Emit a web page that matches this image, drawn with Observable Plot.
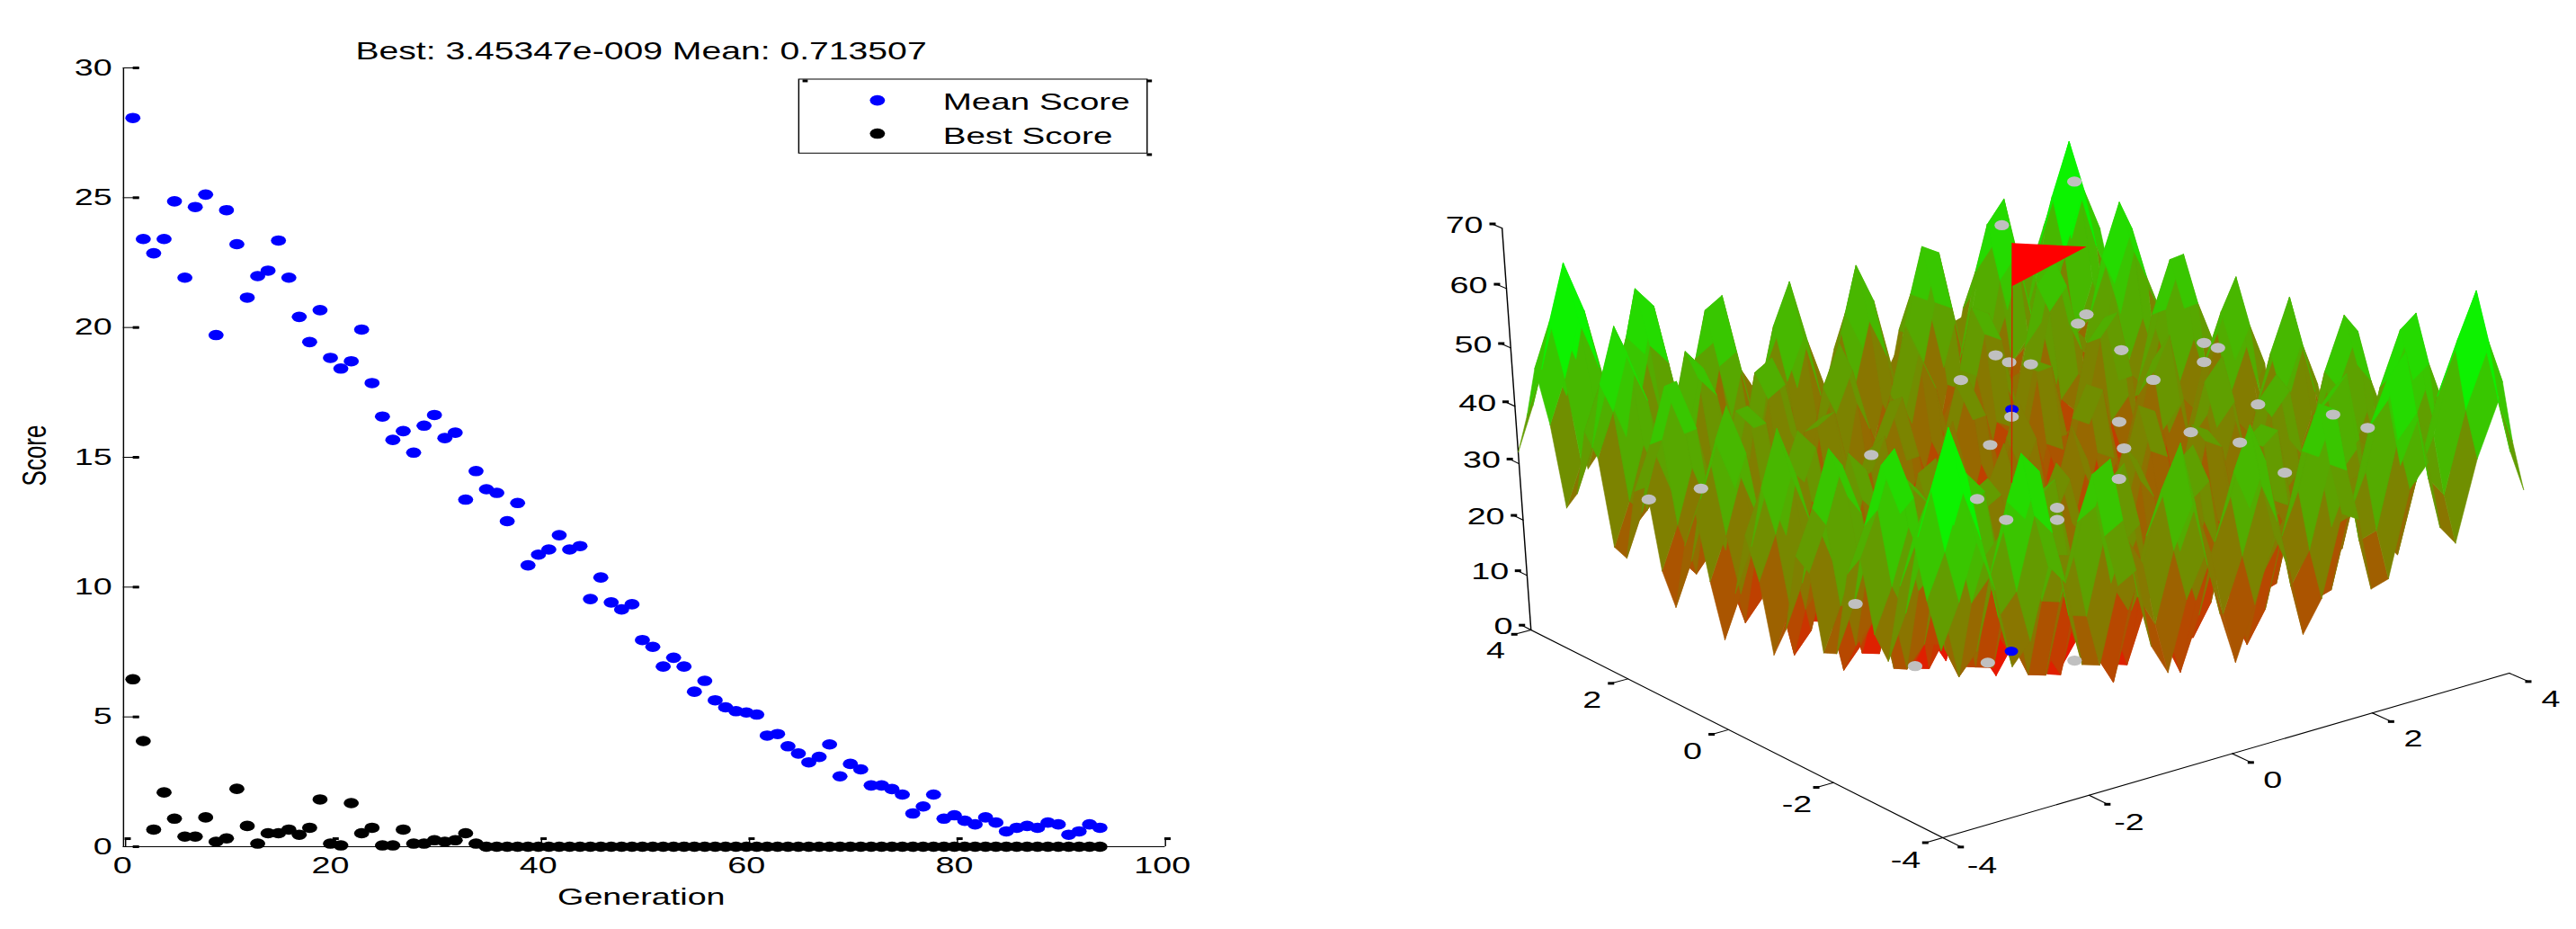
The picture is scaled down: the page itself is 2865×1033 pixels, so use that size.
<!DOCTYPE html>
<html>
<head>
<meta charset="utf-8">
<script src="https://cdn.jsdelivr.net/npm/d3@7"></script>
<script src="https://cdn.jsdelivr.net/npm/@observablehq/plot@0.6"></script>
<style>
body { margin: 0; background: white; }
#chart { display: flex; width: 2865px; height: 1033px; }
</style>
</head>
<body>
<div id="chart"></div>
<script>
const generations = [1,2,3,4,5,6,7,8,9,10,11,12,13,14,15,16,17,18,19,20,21,22,23,24,25,26,27,28,29,30,31,32,
	33,34,35,36,37,38,39,40,41,42,43,44,45,46,47,48,49,50,51,52,53,54,55,56,57,58,59,60,61,62,63,64,
	65,66,67,68,69,70,71,72,73,74,75,76,77,78,79,80,81,82,83,84,85,86,87,88,89,90,91,92,93,94]
const meanScore = [28.07,23.41,22.86,23.41,24.86,21.92,24.64,25.12,19.71,24.52,
	23.21,21.15,21.98,22.19,23.35,21.92,20.41,19.44,20.67,18.83,
	18.42,18.70,19.92,17.86,16.57,15.67,16.01,15.18,16.22,16.63,
	15.74,15.95,13.37,14.47,13.77,13.63,12.54,13.24,10.84,11.25,
	11.45,12.00,11.45,11.58,9.54,10.37,9.41,9.14,9.34,7.96,
	7.70,6.94,7.28,6.94,5.97,6.39,5.64,5.37,5.22,5.17,
	5.09,4.28,4.34,3.87,3.59,3.25,3.46,3.94,2.71,3.19,
	2.98,2.36,2.36,2.22,2.01,1.28,1.55,2.01,1.08,1.21,
	1.00,0.86,1.13,0.93,0.59,0.73,0.80,0.73,0.93,0.86,
	0.46,0.59,0.86,0.73]
const bestScore = [6.45,4.07,0.66,2.09,1.08,0.39,0.39,1.13,0.19,0.32,
	2.23,0.80,0.12,0.52,0.52,0.66,0.46,0.73,1.82,0.12,
	0.05,1.68,0.52,0.73,0.05,0.05,0.66,0.12,0.12,0.25,
	0.19,0.25,0.52,0.12,0,0,0,0,0,0,
	0,0,0,0,0,0,0,0,0,0,
	0,0,0,0,0,0,0,0,0,0,
	0,0,0,0,0,0,0,0,0,0,
	0,0,0,0,0,0,0,0,0,0,
	0,0,0,0,0,0,0,0,0,0,
	0,0,0,0]
const scoreTicks = [0,5,10,15,20,25,30]
const generationTicks = [0,20,40,60,80,100]
const legendLabels = ["Mean Score","Best Score"]
const titleText = "Best: 3.45347e-009 Mean: 0.713507"

// surface: heights estimated along one edge of the grid, the surface adds the two edges
const gridSteps = [-4,-3.76,-3.53,-3.29,-3.06,-2.82,-2.59,-2.35,-2.12,-1.88,-1.65,-1.41,-1.18,-0.94,-0.71,-0.47,-0.24,0,
	0.24,0.47,0.71,0.94,1.18,1.41,1.65,1.88,2.12,2.35,2.59,2.82,3.06,3.29,3.53,3.76,4]
const edgeHeight = [16,23.25,32.29,23.59,10.03,13.52,25.2,21.56,7.09,6.15,18.74,20.5,6.93,1.56,13.24,20.05,9.13,0,
	9.13,20.05,13.24,1.56,6.93,20.5,18.74,6.15,7.09,21.56,25.2,13.52,10.03,23.59,32.29,23.25,16]
const floorTicks = [-4,-2,0,2,4]
const heightTicks = [0,10,20,30,40,50,60,70]

// population scattered over the surface
const popX = [2.66,2.50,2.47,2.62,1.64,1.31,0.53,-0.73,-2.90,-0.68,-0.16,-0.40,-0.84,-3.57,3.78,3.76,3.38,3.89,3.77,3.85,3.77,3.82,2.16,2.57,1.64,2.78,2.53,0.96,3.87,3.84,3.83,-3.71,-3.90,-1.54,-0.74]
const popY = [3.76,3.67,3.37,3.15,3.21,1.81,1.19,1.76,2.05,-0.16,-0.94,-1.25,-0.90,2.12,3.84,2.89,1.81,1.53,1.13,1.47,0.38,-0.88,0.90,0.11,0.15,-0.51,-1.61,-0.62,3.70,3.82,-1.47,-1.99,-3.31,-1.48,-2.02]
const popZ = [52,30,30,30,30,30,30,30,30,30,30,30,30,30,56,30,30,36,37,33,30,33,30,30,30,30,30,30,33,31,33,30,26,10,10]
const bestZ = [0,42.5]

const stretch = 1.45
const leftW = 1400 / stretch, rightW = 1465 / stretch

// camera fitted to the drawn axes
const cam = {ax:2160,ay:931,bx:755.6,by:-149.3,cx:-316.7,cy:-172.9,dx:-2,dy:-7.14,g:.045,h:.083,r:-.0009}
function project(x, y, z) {
	const u = (x + 4) / 8, v = (y + 4) / 8
	const w = 1 + cam.g * u + cam.h * v + cam.r * z
	return {sx: (cam.ax + cam.bx * u + cam.cx * v + cam.dx * z) / w, sy: (cam.ay + cam.by * u + cam.cy * v + cam.dy * z) / w, w}
}

const heightColor = z => {
	const t = Math.min(1, Math.pow(z / 58, 1.25))
	return `rgb(${Math.round(255 * (1 - t))},${Math.round(255 * t)},0)`
}

const n = gridSteps.length
const faces = []
for (let i = 0; i < n - 1; i++) {
	for (let j = 0; j < n - 1; j++) {
		const zs = [[i,j],[i+1,j],[i+1,j+1],[i,j+1],[i,j]].map(([a,b]) => edgeHeight[a] + edgeHeight[b])
		const corners = [[i,j],[i+1,j],[i+1,j+1],[i,j+1],[i,j]].map(([a,b], k) => project(gridSteps[a], gridSteps[b], zs[k]))
		faces.push({corners, depth: d3.mean(corners, c => c.w), color: heightColor(d3.mean(zs.slice(0, 4)))})
	}
}
faces.sort((a, b) => b.depth - a.depth)
const surfaceRows = faces.flatMap((f, id) => f.corners.map(c => ({sx: c.sx, sy: c.sy, id, color: f.color})))

const tickSegments = (list, base, end) => list.flatMap((t, id) => [project(...base(t)), project(...end(t))].map(p => ({...p, id})))
const tipDash = (list, end) => list.map(t => project(...end(t)))

// left panel
const leftPlot = Plot.plot({
	width: leftW, height: 1033,
	marginLeft: 135.5 / stretch, marginRight: (1400 - 1292) / stretch, marginTop: 75, marginBottom: 92,
	x: {domain: [0, 100]},
	y: {domain: [0, 30]},
	style: {fontFamily: "Liberation Sans", fontSize: "26px", color: "#000"},
	marks: [
		Plot.ruleX([0.1], {stroke: "#000", strokeWidth: 1}),
		Plot.ruleY([0], {x1: 0.1, x2: 100.3, stroke: "#000", strokeWidth: 1}),
		Plot.ruleY(scoreTicks, {x1: 0.1, x2: 1.66, stroke: "#000", strokeWidth: 1}),
		Plot.ruleY(scoreTicks, {x1: 1.05, x2: 1.66, stroke: "#000", strokeWidth: 3}),
		Plot.ruleX(generationTicks, {x: d => d + 0.3, y1: 0, y2: 0.3, stroke: "#000", strokeWidth: 1}),
		Plot.link(generationTicks, {x1: d => d + 0.2, x2: d => d + 0.8, y1: 0.31, y2: 0.31, stroke: "#000", strokeWidth: 3}),
		Plot.axisY(scoreTicks, {tickSize: 0, tickPadding: 8, label: null, fontSize: 26}),
		Plot.axisX(generationTicks, {tickSize: 0, tickPadding: 11, label: null, fontSize: 26}),
		Plot.dot(generations, {x: d => d, y: (d, i) => meanScore[i], r: 5.8, fill: "#0000ff"}),
		Plot.dot(generations, {x: d => d, y: (d, i) => bestScore[i], r: 5.8, fill: "#000"}),
		Plot.text([titleText], {frameAnchor: "top", dx: -1, dy: -29, fontSize: 27}),
		Plot.text(["Generation"], {x: () => 49.9, y: () => -1.94, fontSize: 26}),
		Plot.text(["Score"], {x: () => -8.4, y: () => 15.07, rotate: -90, fontSize: 26}),
		Plot.rect(legendLabels.slice(0, 1), {x1: 65.1, x2: 98.6, y1: 29.55, y2: 26.7, fill: "#fff", stroke: "#000", strokeWidth: 1}),
		Plot.link([[65.4,29.5],[98.5,29.5],[98.5,26.66]], {x1: d => d[0], x2: d => d[0] + 0.5, y1: d => d[1], y2: d => d[1], stroke: "#000", strokeWidth: 3}),
		Plot.dot(legendLabels, {x: () => 72.6, y: (d, i) => i ? 27.47 : 28.75, r: 5.8, fill: (d, i) => i ? "#000" : "#0000ff"}),
		Plot.text(legendLabels, {x: () => 78.9, y: (d, i) => i ? 27.38 : 28.68, textAnchor: "start", fontSize: 26.6})
	]
})

// right panel
const axisLines = [
	[[-4,4,0],[-4,-4,0]],
	[[-4,-4,0],[4,-4,0]],
	[[-4,4,0],[-4,4,70]]
].flatMap((pair, id) => pair.map(p => ({...project(...p), id})))
const pole = [project(0,0,30), project(0,0,70)]
const flag = [project(0,0,70), project(0.54,-0.61,70), project(0,0,63)]
const popPoints = popX.map((x, i) => project(x, popY[i], popZ[i]))
const bestPoints = bestZ.map(z => project(0, 0, z))

const rightPlot = Plot.plot({
	width: rightW, height: 1033, margin: 0,
	x: {domain: [1400, 2865], axis: null},
	y: {domain: [0, 1033], range: [0, 1033], axis: null},
	style: {fontFamily: "Liberation Sans", fontSize: "26px", color: "#000"},
	marks: [
		Plot.line(axisLines, {x: "sx", y: "sy", z: "id", stroke: "#000", strokeWidth: 1}),
		Plot.line(tickSegments(floorTicks, t => [-4,t,0], t => [-4.23,t,0]), {x: "sx", y: "sy", z: "id", stroke: "#000", strokeWidth: 1}),
		Plot.line(tickSegments(floorTicks, t => [t,-4,0], t => [t,-4.33,0]), {x: "sx", y: "sy", z: "id", stroke: "#000", strokeWidth: 1}),
		Plot.line(tickSegments(heightTicks, t => [-4,4,t], t => [-4,4.2,t]), {x: "sx", y: "sy", z: "id", stroke: "#000", strokeWidth: 1}),
		Plot.link(tipDash(floorTicks, t => [-4.23,t,0]), {x1: d => d.sx - 4, x2: d => d.sx + 3, y1: "sy", y2: "sy", stroke: "#000", strokeWidth: 3}),
		Plot.link(tipDash(floorTicks, t => [t,-4.33,0]), {x1: d => d.sx - 4, x2: d => d.sx + 3, y1: "sy", y2: "sy", stroke: "#000", strokeWidth: 3}),
		Plot.link(tipDash(heightTicks, t => [-4,4.2,t]), {x1: d => d.sx - 3, x2: d => d.sx + 4, y1: "sy", y2: "sy", stroke: "#000", strokeWidth: 3}),
		Plot.text(floorTicks, {x: t => project(-4.5,t,0).sx, y: t => project(-4.5,t,0).sy, dy: 13, text: t => String(t), fontSize: 26}),
		Plot.text(floorTicks, {x: t => project(t,-4.7,0).sx, y: t => project(t,-4.7,0).sy, dy: 9, text: t => String(t), fontSize: 26}),
		Plot.text(heightTicks, {x: t => project(-4,4.3,t).sx, y: t => project(-4,4.3,t).sy, dx: -3, dy: 4, textAnchor: "end", text: t => String(t), fontSize: 26}),
		Plot.line(surfaceRows, {x: "sx", y: "sy", z: "id", fill: "color", stroke: "color", strokeWidth: 0.5}),
		Plot.dot(bestPoints, {x: "sx", y: "sy", r: 5.2, fill: "#0000ff"}),
		Plot.dot(popPoints, {x: "sx", y: "sy", dx: 4, r: 5.6, fill: "#c0c0c0"}),
		Plot.line(pole, {x: "sx", y: "sy", stroke: "#c83000", strokeWidth: 1}),
		Plot.line(flag, {x: "sx", y: "sy", fill: "#ff0000", stroke: "none"})
	]
})

for (const [svg, w] of [[leftPlot, 1400], [rightPlot, 1465]]) {
	svg.setAttribute("preserveAspectRatio", "none")
	svg.style.setProperty("width", w + "px")
	svg.style.setProperty("height", "1033px")
	svg.style.setProperty("max-width", "none")
	svg.style.setProperty("flex", "none")
	d3.select("#chart").append(() => svg)
}
</script>
</body>
</html>
